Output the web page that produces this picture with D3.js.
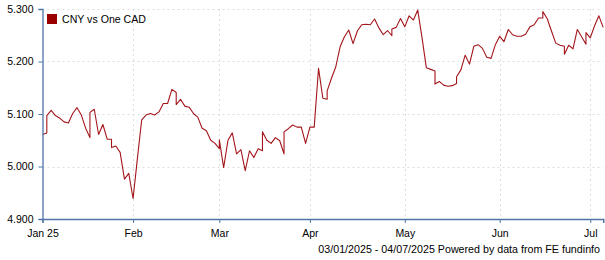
<!DOCTYPE html>
<html>
<head>
<meta charset="utf-8">
<script src="https://cdn.jsdelivr.net/npm/d3@7"></script>
<style>
  body { margin: 0; background: #fff; }
  svg text { font-family: "Liberation Sans", Arial, sans-serif; font-size: 10.5px; fill: #000; }
</style>
</head>
<body>
<div class="fx-chart"></div>
<script>
// CNY per one CAD, daily closes (weekdays, plus the odd Sunday quote)
var startDate = "2025-01-03";
var endDate = "2025-07-04";
var sundayQuotes = ["2025-01-05", "2025-01-19", "2025-01-26", "2025-02-16", "2025-03-02",
    "2025-03-16", "2025-03-23", "2025-04-06", "2025-04-27", "2025-05-11", "2025-05-18",
    "2025-06-15", "2025-06-22", "2025-06-29"];

var cnyJan = [5.061, 5.064, 5.097, 5.107, 5.097, 5.092, 5.085, 5.083, 5.101, 5.112, 5.098, 5.073,
    5.055, 5.103, 5.109, 5.061, 5.080, 5.052, 5.052, 5.036, 5.039, 5.027, 4.976, 4.987];
var cnyFeb = [4.939, 5.015, 5.089, 5.098, 5.101, 5.098, 5.104, 5.120, 5.120, 5.147, 5.141, 5.118,
    5.128, 5.115, 5.113, 5.101, 5.094, 5.073, 5.068, 5.050, 5.044];
var cnyMar = [5.034, 5.051, 4.998, 5.050, 5.064, 5.024, 5.032, 4.992, 5.030, 5.017, 5.034, 5.030,
    5.066, 5.050, 5.044, 5.055, 5.049, 5.024, 5.066, 5.072, 5.079, 5.075, 5.075, 5.044];
var cnyApr = [5.075, 5.075, 5.187, 5.130, 5.128, 5.144, 5.168, 5.190, 5.228, 5.247, 5.260, 5.234,
    5.258, 5.270, 5.271, 5.270, 5.281, 5.264, 5.251, 5.259, 5.249, 5.262, 5.265, 5.282];
var cnyMay = [5.266, 5.287, 5.279, 5.298, 5.245, 5.188, 5.185, 5.182, 5.157, 5.162, 5.155, 5.153,
    5.154, 5.158, 5.171, 5.184, 5.212, 5.195, 5.229, 5.232, 5.225, 5.208, 5.206, 5.232];
var cnyJun = [5.248, 5.238, 5.261, 5.251, 5.248, 5.248, 5.252, 5.266, 5.270, 5.283, 5.283, 5.295,
    5.282, 5.258, 5.235, 5.231, 5.229, 5.214, 5.231, 5.224, 5.261, 5.247, 5.233, 5.255];
var cnyJul = [5.245, 5.268, 5.287, 5.265];

var monthLabels = ["Jan 25", "Feb", "Mar", "Apr", "May", "Jun", "Jul"];
var yTicks = [4.9, 5.0, 5.1, 5.2, 5.3];
var legendLabel = "CNY vs One CAD";
var footerText = "03/01/2025 - 04/07/2025 Powered by data from FE fundinfo";

var W = 605, H = 260;
var m = {left: 42.5, right: 1.8, top: 9, bottom: 41};
var axisColor = "#4f74a6";
var lineColor = "#a3161c";

// quote dates -> position on a business-day axis (a Sunday sits on the following Monday)
var parse = d3.timeParse("%Y-%m-%d");
var fmt = d3.timeFormat("%Y-%m-%d");
var values = [].concat(cnyJan, cnyFeb, cnyMar, cnyApr, cnyMay, cnyJun, cnyJul);
var data = [];
var k = 0, vi = 0;
d3.timeDay.range(parse(startDate), d3.timeDay.offset(parse(endDate), 1)).forEach(function(d) {
    var wd = d.getDay();
    if (wd >= 1 && wd <= 5) {
        data.push({date: d, pos: k, value: values[vi++]});
        k++;
    } else if (sundayQuotes.indexOf(fmt(d)) >= 0) {
        data.push({date: d, pos: k, value: values[vi++]});
    }
});
var lastPos = k - 1;

var monthTicks = [];
data.forEach(function(d, i) {
    if (i === 0 || d.date.getMonth() !== data[i - 1].date.getMonth()) monthTicks.push(d.pos);
});
var tickPos = monthTicks.concat([lastPos]);

var x = d3.scaleLinear().domain([0, lastPos]).range([m.left, W - m.right]);
var y = d3.scaleLinear().domain([4.9, 5.3]).range([H - m.bottom, m.top]);

var svg = d3.select(".fx-chart").append("svg")
    .attr("width", W)
    .attr("height", H);

// grid
svg.append("g").selectAll("line").data(yTicks.slice(1)).enter().append("line")
    .attr("x1", m.left).attr("x2", W - m.right)
    .attr("y1", function(d) { return Math.round(y(d)) + 0.5; })
    .attr("y2", function(d) { return Math.round(y(d)) + 0.5; })
    .attr("stroke", "#dedede").attr("stroke-dasharray", "2,3");
svg.append("g").selectAll("line").data(monthTicks.slice(1)).enter().append("line")
    .attr("x1", function(d) { return Math.round(x(d)) + 0.5; })
    .attr("x2", function(d) { return Math.round(x(d)) + 0.5; })
    .attr("y1", m.top).attr("y2", H - m.bottom)
    .attr("stroke", "#dedede").attr("stroke-dasharray", "2,3");

// series
var line = d3.line()
    .x(function(d) { return x(d.pos); })
    .y(function(d) { return y(d.value); });
svg.append("path")
    .datum(data)
    .attr("d", line)
    .attr("fill", "none")
    .attr("stroke", lineColor)
    .attr("stroke-width", 1.1)
    .attr("stroke-linejoin", "round");

// axes
var xAxis = d3.axisBottom(x)
    .tickValues(tickPos)
    .tickSize(4)
    .tickPadding(7)
    .tickFormat(function(d, i) { return i < monthLabels.length ? monthLabels[i] : ""; });
var gx = svg.append("g")
    .attr("transform", "translate(0," + (H - m.bottom) + ")")
    .call(xAxis);

var yAxis = d3.axisLeft(y)
    .tickValues(yTicks)
    .tickSize(4)
    .tickPadding(5)
    .tickFormat(d3.format(".3f"));
var gy = svg.append("g")
    .attr("transform", "translate(" + m.left + ",0)")
    .call(yAxis);

[gx, gy].forEach(function(g) {
    g.attr("font-family", null).attr("font-size", null);
    g.select(".domain").attr("stroke", axisColor).attr("stroke-width", 1.3);
    g.selectAll(".tick line").attr("stroke", axisColor);
    g.selectAll(".tick text").attr("fill", "#000");
});

// legend
svg.append("rect")
    .attr("x", 47).attr("y", 14).attr("width", 10).attr("height", 10)
    .attr("fill", "#990000");
svg.append("text")
    .attr("x", 62).attr("y", 23)
    .style("font-size", "10.6px")
    .text(legendLabel);

// footer
svg.append("text")
    .attr("x", 600).attr("y", 253)
    .attr("text-anchor", "end")
    .style("font-size", "10.7px")
    .text(footerText);
</script>
</body>
</html>
